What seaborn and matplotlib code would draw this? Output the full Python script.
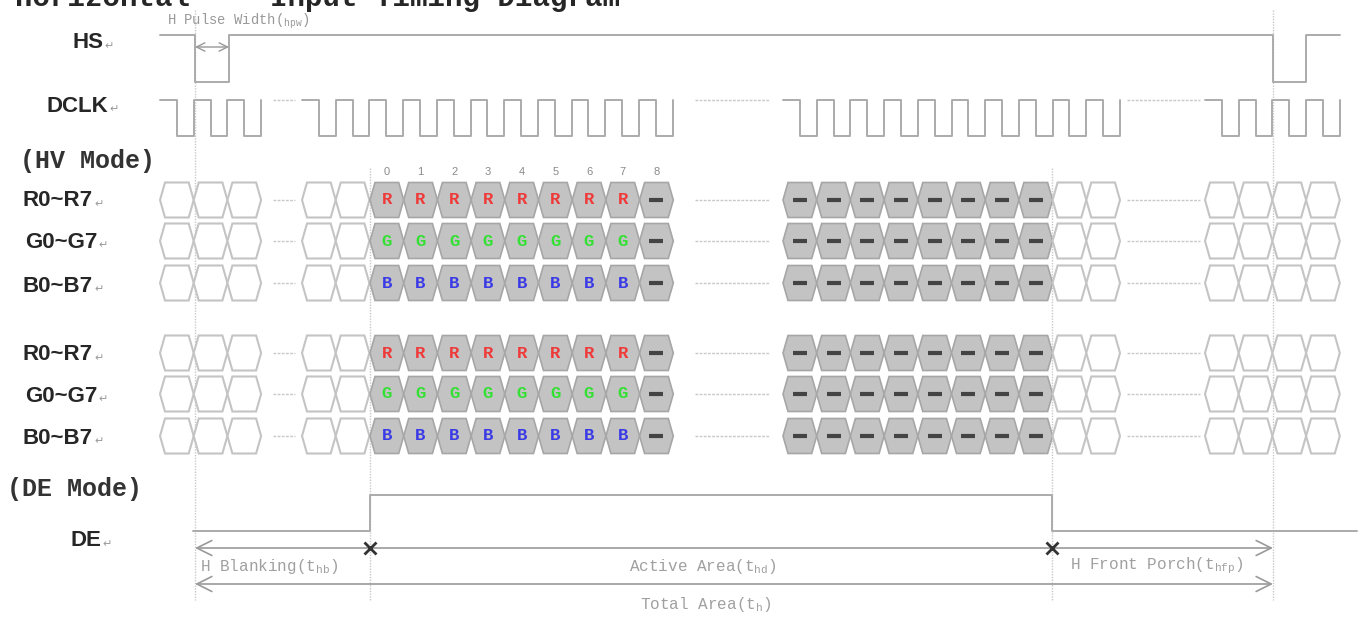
import numpy as np
import pandas as pd
import seaborn as sns
import matplotlib.pyplot as plt
from matplotlib.patches import Polygon

# --- names shown on the left ---
row_labels = ['HS', 'DCLK', 'R0~R7', 'G0~G7', 'B0~B7', 'R0~R7', 'G0~G7', 'B0~B7', 'DE']
mode_labels = ['(HV Mode)', '(DE Mode)']
title_words = ['Horizontal', 'Input Timing Diagram']

# --- bus contents ---
bus_letters = ['R', 'G', 'B']
bus_letter_colors = ['#f03a3a', '#33e033', '#3a3ae6']
pixel_index = [0, 1, 2, 3, 4, 5, 6, 7, 8]
colored_pixels = 8          # pixels 0..7 carry a colour letter, 8 is "-"

# hexagon groups along the time line (start, number of clocks, data or idle)
group_start = [160, 302, 370, 783, 1052.6, 1205]
group_clocks = [3, 2, 9, 8, 2, 4]
group_active = [False, False, True, True, False, False]
clock_period = 33.7
skip_ranges = [(273, 295), (695, 770), (1127, 1200)]

# HS and DE as step levels (1 = high)
hs_t = [160, 195, 229, 1273, 1306, 1340]
hs_v = [1, 0, 1, 0, 1, 1]
de_t = [193, 370, 1052, 1357]
de_v = [0, 1, 0, 0]
guide_t = [195, 370, 1052, 1273]

# timing spans under DE
span_names = ['H Blanking', 'Active Area', 'H Front Porch', 'Total Area']
span_subs = ['hb', 'hd', 'hfp', 'h']

# --- layout ---
hs_y = (35, 82)
clk_y = (100, 136)
de_y = (495, 531)
bus_y = [200, 241, 283, 353, 394, 436]
label_right = [103, 108, 93, 97, 93, 93, 97, 93, 101]
label_y = [43, 106, 201, 242, 286, 355, 396, 438, 541]
wave_color = '#ababab'

sns.set_theme(style='white')
plt.rcParams['font.family'] = ['Liberation Sans', 'DejaVu Sans']
plt.rcParams['mathtext.fontset'] = 'custom'
plt.rcParams['mathtext.rm'] = 'Liberation Mono'

fig = plt.figure(figsize=(13.6, 6.17), dpi=100)
ax = fig.add_axes([0, 0, 1, 1])
ax.set_xlim(0, 1360)
ax.set_ylim(617, 0)
ax.axis('off')

# title (cut off at the top edge, as in the source)
ax.text(15, 6, title_words[0], fontsize=21, fontweight='bold', family='Liberation Mono', va='baseline')
ax.text(270, 6, title_words[1], fontsize=21, fontweight='bold', family='Liberation Mono', va='baseline')

# vertical guide lines
for t in guide_t:
    top = 10 if t in (hs_t[1], hs_t[3]) else 168
    ax.plot([t, t], [top, 600], color='#c8c8c8', lw=1, ls=(0, (1, 1)), zorder=1)

# HS
hs_df = pd.DataFrame({'x': hs_t, 'y': [hs_y[0] if v else hs_y[1] for v in hs_v]})
sns.lineplot(data=hs_df, x='x', y='y', sort=False, estimator=None, drawstyle='steps-post',
             color=wave_color, lw=1.4, ax=ax)

# DCLK: one square wave per run of touching groups
runs = []
for s, n in zip(group_start, group_clocks):
    if runs and abs(runs[-1][0] + runs[-1][1] * clock_period - s) < 3:
        runs[-1][1] += n
    else:
        runs.append([s, n])
rows = []
for k, (s, n) in enumerate(runs):
    for i in range(n):
        x0 = s + i * clock_period
        xm = x0 + clock_period / 2
        rows += [(x0, clk_y[0], k), (xm, clk_y[0], k), (xm, clk_y[1], k), (x0 + clock_period, clk_y[1], k)]
    rows.append((s + n * clock_period, clk_y[0], k))
clk_df = pd.DataFrame(rows, columns=['x', 'y', 'seg'])
sns.lineplot(data=clk_df, x='x', y='y', units='seg', sort=False, estimator=None,
             color=wave_color, lw=1.4, ax=ax, legend=False)
for a, b in skip_ranges:
    ax.plot([a, b], [clk_y[0], clk_y[0]], color='#c8c8c8', lw=1, ls=(0, (2, 1)))

# bus hexagons
half_h = 17.5
indent = 5
for r, yc in enumerate(bus_y):
    ch = r % 3
    for s, n, act in zip(group_start, group_clocks, group_active):
        for i in range(n):
            x0 = s + i * clock_period
            x1 = x0 + clock_period
            pts = [(x0, yc), (x0 + indent, yc - half_h), (x1 - indent, yc - half_h),
                   (x1, yc), (x1 - indent, yc + half_h), (x0 + indent, yc + half_h)]
            if act:
                ax.add_patch(Polygon(pts, closed=True, fc='#c3c3c3', ec='#a6a6a6', lw=1.2, zorder=2))
            else:
                ax.add_patch(Polygon(pts, closed=True, fc='white', ec='#c4c4c4', lw=1.5, zorder=2))
            xc = (x0 + x1) / 2
            if act:
                if s == group_start[2] and i < colored_pixels:
                    ax.text(xc, yc, bus_letters[ch], color=bus_letter_colors[ch], fontsize=12.5,
                            fontweight='bold', family='Liberation Mono', ha='center', va='center',
                            zorder=3)
                else:
                    ax.plot([xc], [yc], marker='_', ms=10, mew=3, color='#444444', zorder=3)
    for a, b in skip_ranges:
        ax.plot([a, b], [yc, yc], color='#c8c8c8', lw=1, ls=(0, (2, 1)))

# pixel numbers above the first data block
for p in pixel_index:
    ax.text(group_start[2] + (p + 0.5) * clock_period, 172, str(p), fontsize=8, color='#8a8a8a',
            ha='center', va='center')

# DE
de_df = pd.DataFrame({'x': de_t, 'y': [de_y[0] if v else de_y[1] for v in de_v]})
sns.lineplot(data=de_df, x='x', y='y', sort=False, estimator=None, drawstyle='steps-post',
             color=wave_color, lw=1.4, ax=ax)

# pulse width marker
ax.annotate('', xy=(hs_t[2], 47), xytext=(hs_t[1], 47),
            arrowprops=dict(arrowstyle='<->,head_length=0.5,head_width=0.25', color='#999999',
                            lw=1, shrinkA=0, shrinkB=0))
ax.text(167, 21, r'H Pulse Width($\mathregular{{}_{hpw}}$)', fontsize=10, color='#999999',
        family='Liberation Mono', va='center')

# span arrows
arr = dict(arrowstyle='<->,head_length=0.9,head_width=0.45', color='#9a9a9a', lw=1.2, shrinkA=0, shrinkB=0)
ax.annotate('', xy=(guide_t[3], 548), xytext=(guide_t[0], 548), arrowprops=arr)
ax.annotate('', xy=(guide_t[3], 584), xytext=(guide_t[0], 584), arrowprops=arr)
ax.plot([guide_t[1], guide_t[2]], [548, 548], 'x', ms=9, mew=2, color='#333333', zorder=4)

span_x = [200, 703, 1070, 706]
span_yy = [566, 566, 566, 605]
span_ha = ['left', 'center', 'left', 'center']
for name, sub, x, y, ha in zip(span_names, span_subs, span_x, span_yy, span_ha):
    ax.text(x, y, name + r'($\mathregular{t_{' + sub + '}}$)', fontsize=11.5, color='#a0a0a0',
            family='Liberation Mono', ha=ha, va='center')

# row labels
for lab, xr, y in zip(row_labels, label_right, label_y):
    ax.text(xr, y, lab, fontsize=16, fontweight='bold', ha='right', va='center')
    ax.text(xr + 1, y + 3, '\u21b5', fontsize=8, color='#9a9a9a', family='DejaVu Sans',
            ha='left', va='center')
ax.text(20, 161, mode_labels[0], fontsize=18, fontweight='bold', family='Liberation Mono', va='center',
        color='#333333')
ax.text(7, 489, mode_labels[1], fontsize=18, fontweight='bold', family='Liberation Mono', va='center',
        color='#333333')

fig.savefig('out.png', dpi=100)
